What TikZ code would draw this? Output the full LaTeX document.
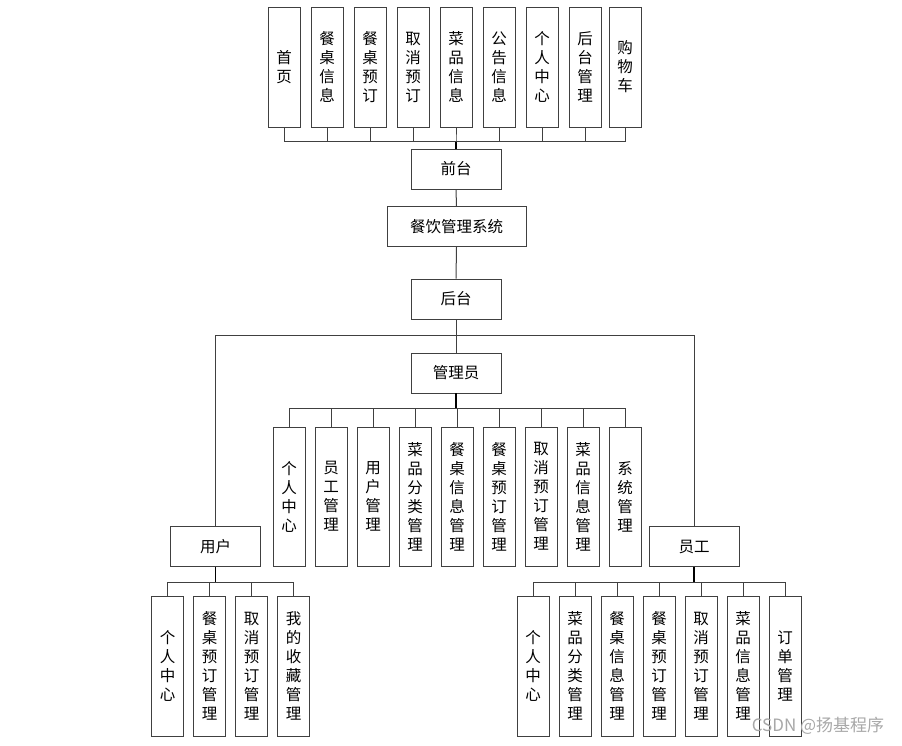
\documentclass[tikz,border=0pt]{standalone}
\usepackage{fontspec}
\newfontfamily\cjk{Noto Sans CJK SC}
\usetikzlibrary{positioning}
\definecolor{edgegray}{HTML}{404040}
\definecolor{markgray}{HTML}{A8A8A8}
\tikzset{
  box/.style={draw=edgegray,line width=0.9pt,fill=white,inner sep=0pt,align=center,font=\cjk\fontsize{15.5}{19}\selectfont},
  hbox/.style={box,minimum width=90pt,minimum height=40pt},
  vbox/.style={box,minimum width=32pt,minimum height=#1},
  vbox/.default=120pt,
  ln/.style={edgegray,line width=1pt},
  trunk/.style={black,line width=1.7pt}
}

\begin{document}
\begin{tikzpicture}[x=1pt,y=-1pt]
\useasboundingbox (0,0) rectangle (902,745);
% front end
\foreach \x/\t [count=\i] in {284/{首\\页},327/{餐\\桌\\信\\息},370/{餐\\桌\\预\\订},413/{取\\消\\预\\订},456/{菜\\品\\信\\息},499/{公\\告\\信\\息},542/{个\\人\\中\\心},585/{后\\台\\管\\理},625/{购\\物\\车}}
  \node[vbox=120pt] (top\i) at (\x,67) {\t};
\node[hbox] (qt) at (456,169) {前台};
\node[hbox,minimum width=139pt] (xt) at (456.5,226.5) {餐饮管理系统};
\node[hbox] (ht) at (456,299) {后台};
\node[hbox] (gly) at (456,373) {管理员};
\node[hbox] (yh) at (215.5,546.5) {用户};
\node[hbox] (yg) at (694,546.5) {员工};
% admin
\foreach \t [count=\i] in {{个\\人\\中\\心},{员\\工\\管\\理},{用\\户\\管\\理},{菜\\品\\分\\类\\管\\理},{餐\\桌\\信\\息\\管\\理},{餐\\桌\\预\\订\\管\\理},{取\\消\\预\\订\\管\\理},{菜\\品\\信\\息\\管\\理},{系\\统\\管\\理}}
  \node[vbox=139pt] (adm\i) at ({289+42*(\i-1)},496.5) {\t};
% user
\foreach \t [count=\i] in {{个\\人\\中\\心},{餐\\桌\\预\\订\\管\\理},{取\\消\\预\\订\\管\\理},{我\\的\\收\\藏\\管\\理}}
  \node[vbox=140pt] (usr\i) at ({167.5+42*(\i-1)},666) {\t};
% staff
\foreach \t [count=\i] in {{个\\人\\中\\心},{菜\\品\\分\\类\\管\\理},{餐\\桌\\信\\息\\管\\理},{餐\\桌\\预\\订\\管\\理},{取\\消\\预\\订\\管\\理},{菜\\品\\信\\息\\管\\理},{订\\单\\管\\理}}
  \node[vbox=140pt] (stf\i) at ({533+42*(\i-1)},666) {\t};
% connectors
\foreach \i in {1,...,9}
  \draw[ln] (qt.north) -- ++(0,-7) -| (top\i.south);
\draw[trunk] (qt.north) -- ++(0,-7);
\draw[ln] (qt.south) -- (xt.north);
\draw[ln] (xt.south) -- (ht.north);
\draw[ln] (ht.south) -- (gly.north);
\draw[ln] (ht.south) -- ++(0,16) -| (yh.north);
\draw[ln] (ht.south) -- ++(0,16) -| (yg.north);
\foreach \i in {1,...,9}
  \draw[ln] (gly.south) -- ++(0,15) -| (adm\i.north);
\draw[trunk] (gly.south) -- ++(0,15);
\foreach \i in {1,...,4}
  \draw[ln] (yh.south) -- ++(0,15.5) -| (usr\i.north);
\draw[trunk] (yh.south) -- ++(0,15.5);
\foreach \i in {1,...,7}
  \draw[ln] (yg.south) -- ++(0,15.5) -| (stf\i.north);
\draw[trunk] (yg.south) -- ++(0,15.5);
\node[font=\cjk\fontsize{17}{17}\selectfont,text=markgray,inner sep=0pt] (mark) at (818,726) {CSDN @扬基程序};
\end{tikzpicture}
\end{document}
